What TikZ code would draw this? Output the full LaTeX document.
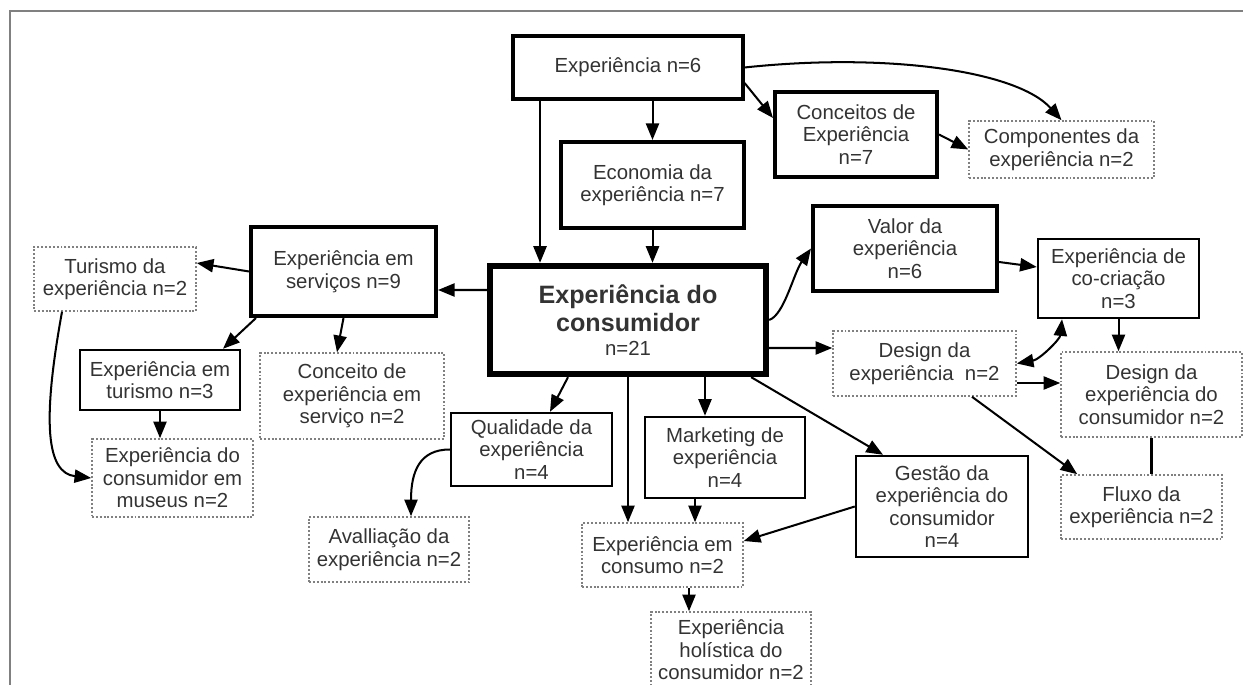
\documentclass[tikz,border=0pt]{standalone}
\usepackage{fontspec}
\setmainfont{Liberation Sans}
\usetikzlibrary{arrows.meta}
\definecolor{txtgray}{HTML}{333333}

\begin{document}
\begin{tikzpicture}[
		x=0.02cm, y=-0.02cm,
		every node/.style={font=\fontsize{11.6}{12.8}\selectfont, text=txtgray},
		box/.style={
			rectangle,
			draw,
			line width=1.4pt,
			align=center,
			inner sep=2pt
		},
		heavybox/.style={box, line width=2.3pt},
		mainbox/.style={box, line width=3.6pt},
		dotbox/.style={
			box,
			draw=gray,
			line width=0.9pt,
			dash pattern=on 1.1pt off 1.1pt
		},
		arrow/.style={
			-{Triangle[length=9.5pt,width=7.5pt]},
			line width=1.15pt
		},
		link/.style={line width=1.4pt},
		frame/.style={draw=gray, line width=0.6pt}
		]
		
		\useasboundingbox (0,0) rectangle (1243,685);
		\draw[frame] (10,685) -- (10,11) -- (1243,11);
		
		% Nodes
		\node[heavybox, line width=1.8pt, minimum width=4.6cm, minimum height=1.26cm] (exp6) at (628,67.5) {Experiência n=6};
		\node[heavybox, minimum width=3.66cm, minimum height=1.72cm] (econ) at (652.5,185) {Economia da\\experiência n=7};
		\node[heavybox, minimum width=3.24cm, minimum height=1.7cm] (conceitos) at (856,134.5) {Conceitos de\\Experiência\\n=7};
		\node[dotbox, minimum width=3.7cm, minimum height=1.14cm] (componentes) at (1061.5,149.5) {Componentes da\\experiência n=2};
		
		\node[mainbox, minimum width=5.52cm, minimum height=2.16cm, font=\fontsize{14.3}{16.2}\selectfont] (central) at (628,320)
			{\textbf{Experiência do}\\\textbf{consumidor}\\[-2.6pt]{\fontsize{11.6}{12.8}\selectfont n=21}};
		
		\node[heavybox, minimum width=3.68cm, minimum height=1.7cm] (valor) at (905,248.5) {Valor da\\experiência\\n=6};
		\node[box, minimum width=3.22cm, minimum height=1.58cm] (cocriacao) at (1118.5,278.5) {Experiência de\\co-criação\\n=3};
		\node[dotbox, minimum width=3.66cm, minimum height=1.3cm] (design) at (924.5,363.5) {Design da\\experiência\ \ n=2};
		\node[dotbox, minimum width=3.62cm, minimum height=1.7cm] (designcons) at (1151.5,394.5) {Design da\\experiência do\\consumidor n=2};
		\node[dotbox, minimum width=3.22cm, minimum height=1.28cm] (fluxo) at (1141.5,507) {Fluxo da\\experiência n=2};
		\node[box, minimum width=3.44cm, minimum height=2.02cm] (gestao) at (942,506.5) {Gestão da\\experiência do\\consumidor\\n=4};
		
		\node[box, minimum width=3.2cm, minimum height=1.62cm] (marketing) at (725,457.5) {Marketing de\\experiência\\n=4};
		\node[dotbox, minimum width=3.22cm, minimum height=1.28cm] (consumo) at (662.5,555) {Experiência em\\consumo n=2};
		\node[dotbox, minimum width=3.2cm, minimum height=1.52cm] (holistica) at (731,650) {Experiência\\holística do\\consumidor n=2};
		\node[box, minimum width=3.22cm, minimum height=1.46cm] (qualidade) at (531.5,449.5) {Qualidade da\\experiência\\n=4};
		\node[dotbox, minimum width=3.2cm, minimum height=1.3cm] (avaliacao) at (389,549.5) {Avalliação da\\experiência n=2};
		
		\node[heavybox, minimum width=3.7cm, minimum height=1.78cm] (servicos) at (343.5,271.5) {Experiência em\\serviços n=9};
		\node[dotbox, minimum width=3.24cm, minimum height=1.28cm] (turismoexp) at (115,279) {Turismo da\\experiência n=2};
		\node[box, minimum width=3.2cm, minimum height=1.2cm] (turismo) at (160,380) {Experiência em\\turismo n=3};
		\node[dotbox, minimum width=3.68cm, minimum height=1.72cm] (conceitoserv) at (352,396) {Conceito de\\experiência em\\serviço n=2};
		\node[dotbox, minimum width=3.22cm, minimum height=1.56cm] (museus) at (172.5,478) {Experiência do\\consumidor em\\museus n=2};
		
		% Arrows from the top
		\draw[arrow] ([xshift=-1.76cm]exp6.south) -- ([xshift=-1.76cm]central.north);
		\draw[arrow] (exp6.south -| econ.north) -- (econ.north);
		\draw[arrow] (econ.south) -- (econ.south |- central.north);
		\draw[arrow] ([yshift=-0.31cm]exp6.east) -- ([yshift=0.33cm]conceitos.west);
		\draw[arrow] (exp6.east) .. controls +(2.8cm,0.3cm) and +(-0.9cm,1.0cm) .. (componentes.north);
		\draw[arrow] (conceitos.east) -- (componentes.west);
		
		% Left side
		\draw[arrow] ([yshift=0.6cm]central.west) -- ([yshift=-0.37cm]servicos.east);
		\draw[arrow] (servicos.west) -- ([yshift=0.32cm]turismoexp.east);
		\draw[arrow] ([xshift=0.14cm]servicos.south west) -- ([xshift=1.26cm]turismo.north);
		\draw[arrow] (servicos.south) -- ([xshift=-0.3cm]conceitoserv.north);
		\draw[arrow] (turismo.south) -- (turismo.south |- museus.north);
		\draw[arrow] ([xshift=-1.06cm]turismoexp.south) .. controls +(-0.4cm,-2.2cm) and +(-0.9cm,0.1cm) .. (museus.west);
		
		% Bottom
		\draw[arrow] ([xshift=-1.2cm]central.south) -- ([xshift=0.37cm]qualidade.north);
		\draw[arrow] (qualidade.west) .. controls +(-0.6cm,0) and +(0,0.9cm) .. ([xshift=0.44cm]avaliacao.north);
		\draw[arrow] (central.south) -- (central.south |- consumo.north);
		\draw[arrow] ([xshift=1.54cm]central.south) -- ([xshift=1.54cm]central.south |- marketing.north);
		\draw[arrow] ([xshift=-0.6cm]marketing.south) -- ([xshift=-0.6cm]marketing.south |- consumo.north);
		\draw[arrow] ([xshift=-0.36cm]central.south east) -- ([xshift=-1.18cm]gestao.north);
		\draw[arrow] (gestao.west) -- ([yshift=0.28cm]consumo.east);
		\draw[arrow] ([xshift=0.53cm]consumo.south) -- ([xshift=0.53cm]consumo.south |- holistica.north);
		
		% Right side
		\draw[arrow] (central.east) .. controls +(0.3cm,0.1cm) and +(-0.35cm,-0.5cm) .. (valor.west);
		\draw[arrow] ([yshift=-0.27cm]valor.east) -- ([yshift=0.23cm]cocriacao.west);
		\draw[arrow] ([yshift=-0.56cm]central.east) -- ([yshift=0.31cm]design.west);
		\draw[arrow, {Triangle[length=9.5pt,width=7.5pt]}-{Triangle[length=9.5pt,width=7.5pt]}]
		(design.east) .. controls +(0.46cm,0.08cm) and +(-0.04cm,-0.4cm) .. ([xshift=-1.13cm]cocriacao.south);
		\draw[arrow] (cocriacao.south) -- (cocriacao.south |- designcons.north);
		\draw[arrow] ([yshift=-0.39cm]design.east) -- ([yshift=-0.39cm]design.east -| designcons.west);
		\draw[arrow] ([xshift=0.95cm]design.south) -- ([xshift=0.34cm]fluxo.north west);
		\draw[link] (designcons.south) -- (designcons.south |- fluxo.north);
		
	\end{tikzpicture}
\end{document}
